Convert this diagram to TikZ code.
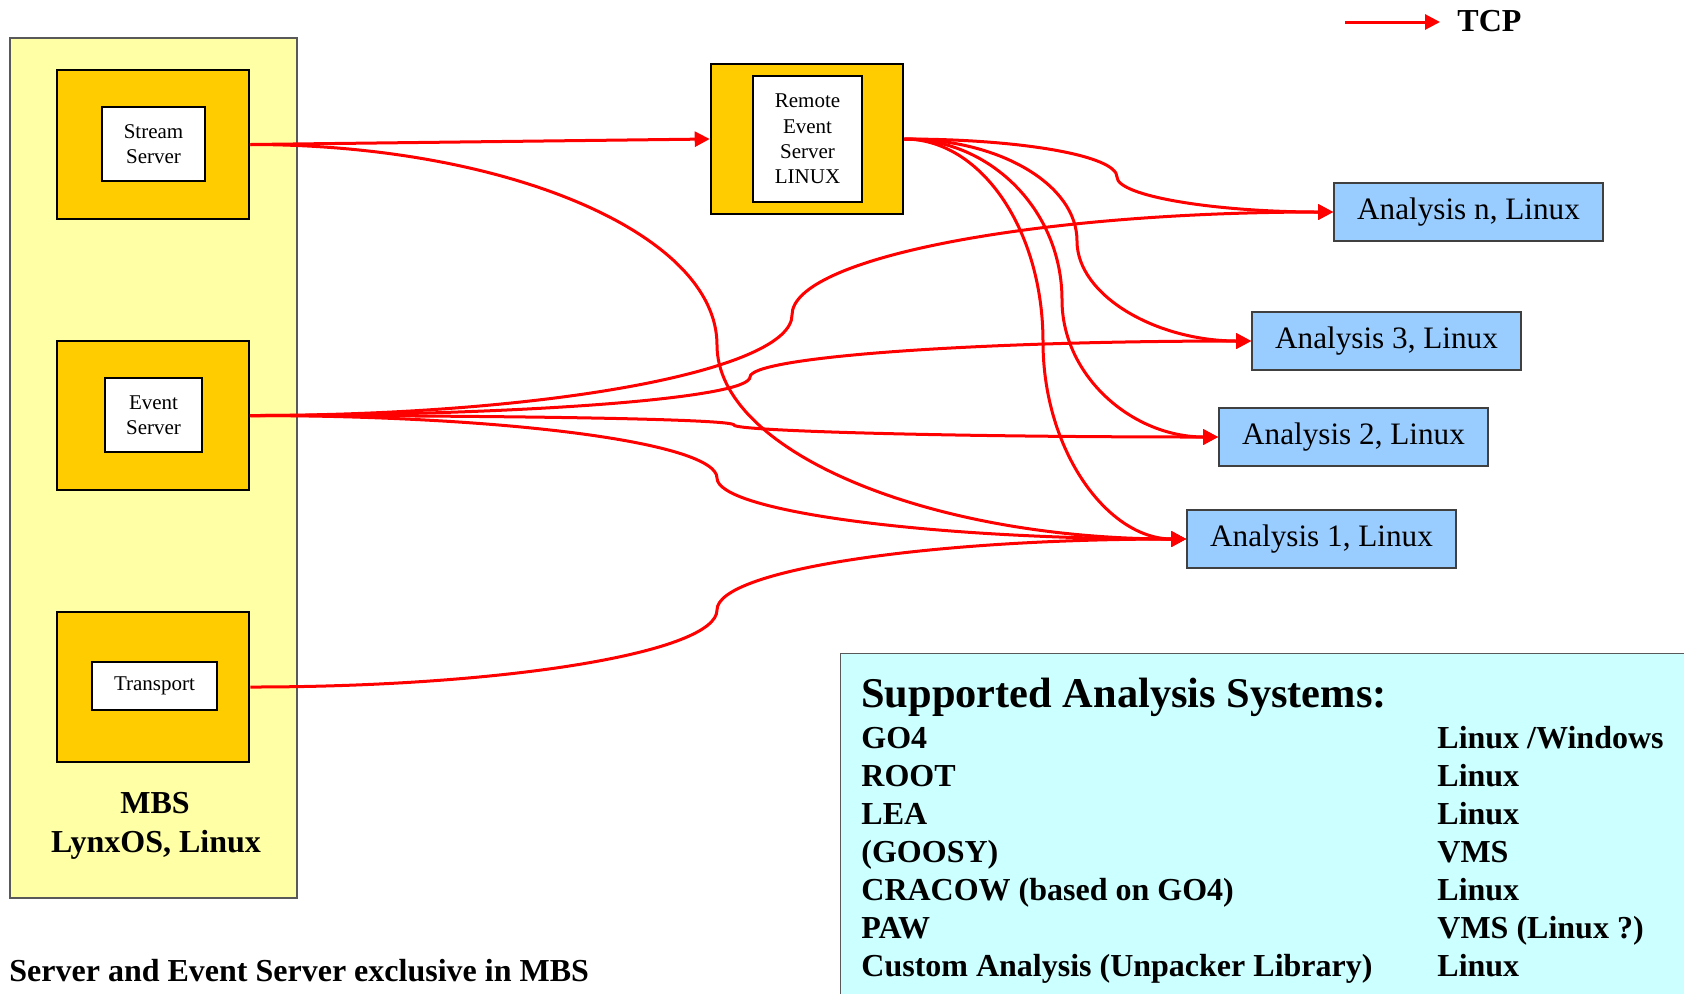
\documentclass[tikz,border=0pt]{standalone}
\usepackage{fontspec}
\setmainfont{Liberation Serif}
\usetikzlibrary{arrows.meta}

\definecolor{mbsyellow}{HTML}{FFFFA5}
\definecolor{boxorange}{HTML}{FFCC00}
\definecolor{anablue}{HTML}{99CCFF}
\definecolor{syscyan}{HTML}{CCFFFF}

\begin{document}
\begin{tikzpicture}[x=0.5pt,y=-0.5pt,
	outerbox/.style={draw=black, fill=boxorange, line width=1.3pt, minimum width=96pt, minimum height=74.5pt, inner sep=0pt},
	innerbox/.style={draw=black, fill=white, line width=1.2pt, align=center, inner sep=0pt, font=\fontsize{10.5}{12.6}\selectfont},
	anabox/.style={draw=black!75, fill=anablue, line width=0.8pt, minimum width=134.5pt, minimum height=29pt, inner sep=0pt, font=\fontsize{15.6}{18}\selectfont},
	tcp/.style={red, line width=1.5pt, -{Triangle[length=7.5pt,width=7.5pt]}},
	boldtext/.style={font=\fontsize{16}{19}\bfseries\selectfont, inner sep=0pt}]
	\useasboundingbox (0,0) rectangle (1684,993);
	\node[draw=black!65, fill=mbsyellow, line width=0.7pt, minimum width=143.5pt, minimum height=430pt] (mbs) at (153.5,468) {};
	\node[draw=black!65, fill=syscyan, line width=0.7pt, minimum width=430pt, minimum height=180pt, anchor=north west] (sysbox) at (840,653) {};

	\node[outerbox] (ssout) at (153,144.5) {};
	\node[innerbox, minimum width=51.5pt, minimum height=37pt] (ss) at (153.5,144) {Stream\\Server};
	\node[outerbox] (esout) at (153,415.5) {};
	\node[innerbox, minimum width=48.5pt, minimum height=37pt] (es) at (153.5,415) {Event\\Server};
	\node[outerbox, minimum height=75pt] (trout) at (153,687) {};
	\node[innerbox, minimum width=62.5pt, minimum height=24pt] (tr) at (154.5,686) {Transport};
	\node[outerbox, minimum height=75pt] (rsout) at (807,139) {};
	\node[innerbox, minimum width=54.5pt, minimum height=63pt] (rs) at (807.5,139) {Remote\\Event\\Server\\LINUX};

	\node[anabox] (ann) at (1468.5,212) {Analysis n, Linux};
	\node[anabox] (an3) at (1386.5,341) {Analysis 3, Linux};
	\node[anabox] (an2) at (1353.5,437) {Analysis 2, Linux};
	\node[anabox] (an1) at (1321.5,539) {Analysis 1, Linux};

	\draw[tcp] (ssout.east) -- (rsout.west);
	\draw[tcp] (ssout.east) .. controls +(257,0) and +(0,-111) .. (717,345) .. controls +(0,106) and +(-259,0) .. (an1.west);

	\draw[tcp] (esout.east) .. controls +(299,0) and +(0,55) .. (792,315) .. controls +(0,-57) and +(-298,0) .. (ann.west);
	\draw[tcp] (esout.east) .. controls +(276,0) and +(0,21) .. (750,377) .. controls +(0,-20) and +(-276,0) .. (an3.west);
	\draw[tcp] (esout.east) .. controls +(267,0) and +(0,-6) .. (734,425) .. controls +(0,6) and +(-267,0) .. (an2.west);
	\draw[tcp] (esout.east) .. controls +(257,0) and +(0,-35) .. (717,478) .. controls +(0,33) and +(-259,0) .. (an1.west);

	\draw[tcp] (trout.east) .. controls +(257,0) and +(0,42) .. (717,610) .. controls +(0,-40) and +(-259,0) .. (an1.west);

	\draw[tcp] (rsout.east) .. controls +(118,0) and +(0,-21) .. (1117,177) .. controls +(0,19) and +(-119,0) .. (ann.west);
	\draw[tcp] (rsout.east) .. controls +(96,0) and +(0,-56) .. (1077,241) .. controls +(0,54) and +(-96,0) .. (an3.west);
	\draw[tcp] (rsout.east) .. controls +(87,0) and +(0,-89) .. (1062,300) .. controls +(0,75) and +(-87,0) .. (an2.west);
	\draw[tcp] (rsout.east) .. controls +(77,0) and +(0,-112) .. (1043,342) .. controls +(0,108) and +(-79,0) .. (an1.west);

	\coordinate (tcpa) at (1345,22);
	\coordinate (tcpb) at (1440,22);
	\draw[tcp] (tcpa) -- (tcpb);
	\node[boldtext, anchor=west] (tcplabel) at (1457,21) {TCP};

	\node[boldtext, anchor=base] (mbsname) at (155,813) {MBS};
	\node[boldtext, anchor=base] (mbsos) at (156,852) {LynxOS, Linux};
	\node[boldtext, anchor=base west] (note) at (9,981) {Server and Event Server exclusive in MBS};

	\node[font=\fontsize{21.2}{25}\bfseries\selectfont, inner sep=0pt, anchor=base west] (systitle) at (861,707) {Supported Analysis Systems:};
	\node[boldtext, anchor=base west] (go4) at (861,748) {GO4};
	\node[boldtext, anchor=base west] (go4os) at (1437,748) {Linux /Windows};
	\node[boldtext, anchor=base west] (root) at (861,786) {ROOT};
	\node[boldtext, anchor=base west] (rootos) at (1437,786) {Linux};
	\node[boldtext, anchor=base west] (lea) at (861,824) {LEA};
	\node[boldtext, anchor=base west] (leaos) at (1437,824) {Linux};
	\node[boldtext, anchor=base west] (goosy) at (861,862) {(GOOSY)};
	\node[boldtext, anchor=base west] (goosyos) at (1437,862) {VMS};
	\node[boldtext, anchor=base west] (cracow) at (861,900) {CRACOW (based on GO4)};
	\node[boldtext, anchor=base west] (cracowos) at (1437,900) {Linux};
	\node[boldtext, anchor=base west] (paw) at (861,938) {PAW};
	\node[boldtext, anchor=base west] (pawos) at (1437,938) {VMS (Linux ?)};
	\node[boldtext, anchor=base west] (custom) at (861,976) {Custom Analysis (Unpacker Library)};
	\node[boldtext, anchor=base west] (customos) at (1437,976) {Linux};
\end{tikzpicture}
\end{document}
